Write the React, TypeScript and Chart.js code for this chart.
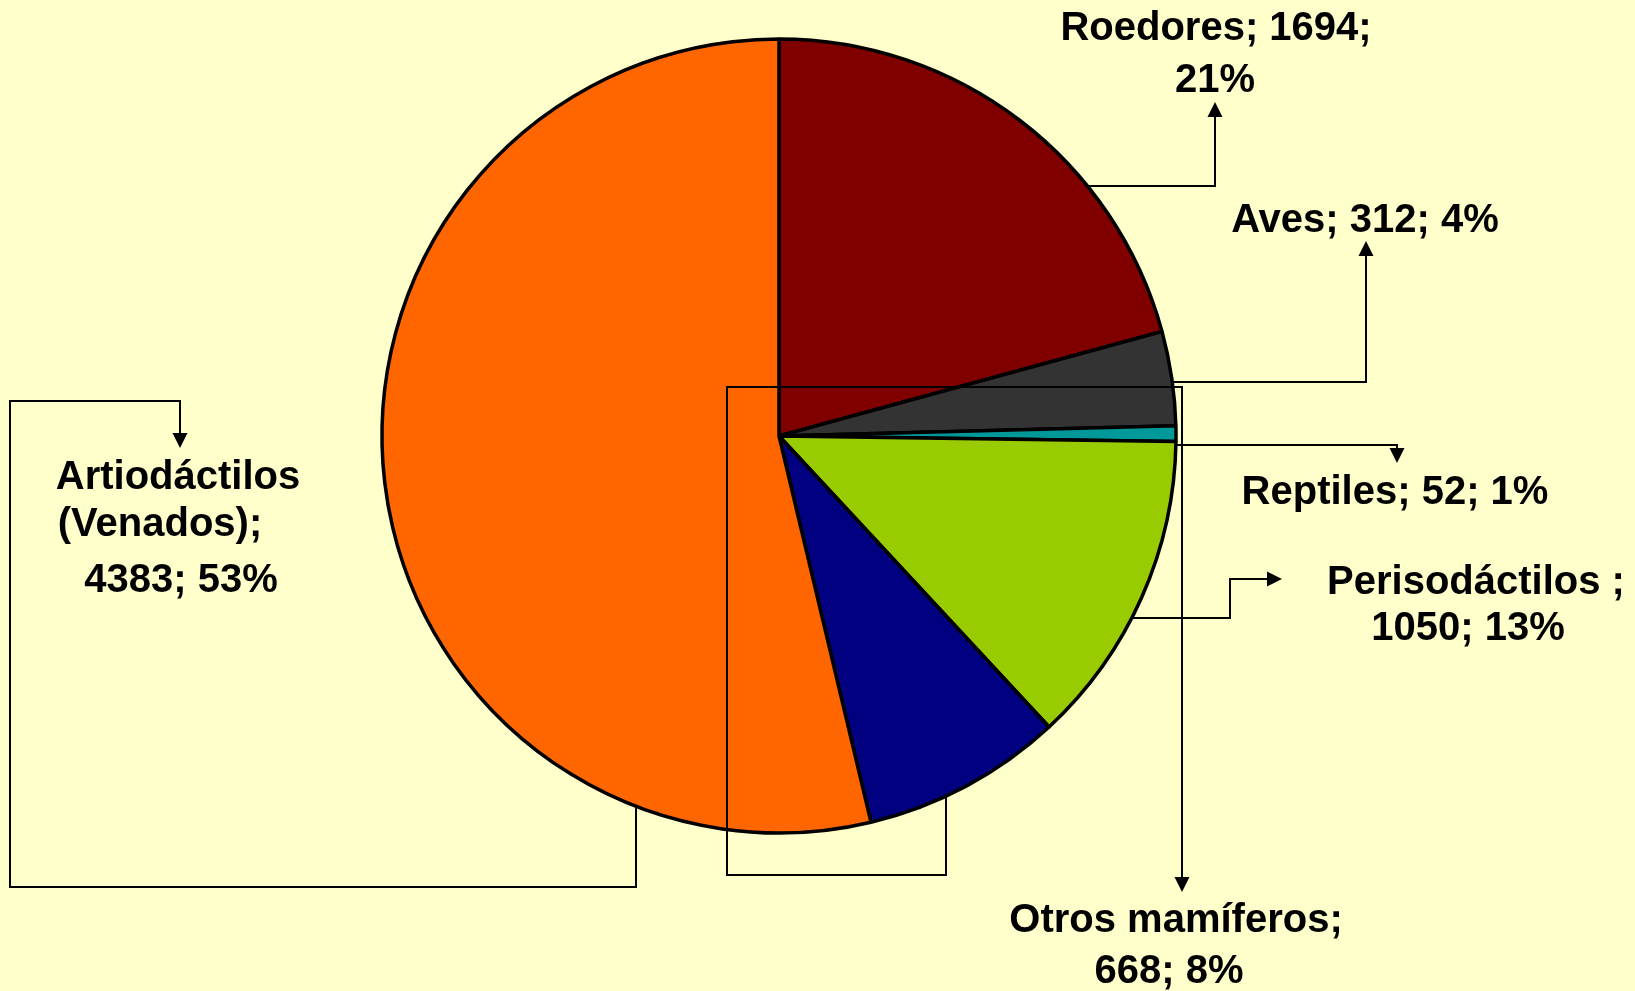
import React, { useEffect, useRef } from "react";
import { Chart, registerables } from "chart.js";

Chart.register(...registerables);

// ---- Data ----
const categories = ["Roedores", "Aves", "Reptiles", "Perisodáctilos", "Otros mamíferos", "Artiodáctilos"];
const values = [1694, 312, 52, 1050, 668, 4383];
const percents = [21, 4, 1, 13, 8, 53];
const colors = ["#800000", "#333333", "#009999", "#99CC00", "#000080", "#FF6600"];

// label text lines, built from the data
const labelLines: string[][] = [
  [`${categories[0]}; ${values[0]};`, `${percents[0]}%`],
  [`${categories[1]}; ${values[1]}; ${percents[1]}%`],
  [`${categories[2]}; ${values[2]}; ${percents[2]}%`],
  [`${categories[3]} ;`, `${values[3]}; ${percents[3]}%`],
  [`${categories[4]};`, `${values[4]}; ${percents[4]}%`],
  [`${categories[5]}`, "(Venados);", `${values[5]}; ${percents[5]}%`],
];

// ---- Layout (positions of label lines: center x, baseline y) ----
const labelPos: [number, number][][] = [
  [[1216, 40], [1215, 92]],
  [[1365, 232]],
  [[1395, 504]],
  [[1476, 594], [1468, 640]],
  [[1176, 932], [1169, 983]],
  [[178, 489], [160, 536], [181, 592]],
];

// leader lines: start on pie edge ('h' = right edge at given y, 'v' = bottom edge at given x), then bend points; last point = arrow tip
type Leader = { edge: "h" | "v"; at: number; pts: [number, number][] };
const leaders: Leader[] = [
  { edge: "h", at: 186, pts: [[1215, 186], [1215, 102]] },
  { edge: "h", at: 382, pts: [[1366, 382], [1366, 241]] },
  { edge: "h", at: 445, pts: [[1397, 445], [1397, 463]] },
  { edge: "h", at: 618, pts: [[1230, 618], [1230, 579], [1282, 579]] },
  { edge: "v", at: 946, pts: [[946, 875], [727, 875], [727, 387], [1182, 387], [1182, 892]] },
  { edge: "v", at: 636, pts: [[636, 887], [10, 887], [10, 401], [180, 401], [180, 448]] },
];

const leaderPlugin = {
  id: "leaders",
  afterDatasetsDraw(chart: any) {
    const ctx: CanvasRenderingContext2D = chart.ctx;
    const arc = chart.getDatasetMeta(0).data[0] as any;
    const cx = arc.x, cy = arc.y, r = arc.outerRadius;
    ctx.save();
    ctx.strokeStyle = "#000";
    ctx.fillStyle = "#000";
    ctx.lineWidth = 2;
    ctx.lineJoin = "miter";
    leaders.forEach((ld) => {
      let sx: number, sy: number;
      if (ld.edge === "h") {
        sy = ld.at;
        sx = cx + Math.sqrt(Math.max(r * r - (sy - cy) * (sy - cy), 0));
      } else {
        sx = ld.at;
        sy = cy + Math.sqrt(Math.max(r * r - (sx - cx) * (sx - cx), 0));
      }
      const pts: [number, number][] = [[sx, sy], ...ld.pts];
      const tip = pts[pts.length - 1];
      const prev = pts[pts.length - 2];
      const dx = tip[0] - prev[0], dy = tip[1] - prev[1];
      const len = Math.hypot(dx, dy) || 1;
      const ux = dx / len, uy = dy / len;
      const al = 15, aw = 7.5;
      const base: [number, number] = [tip[0] - ux * al, tip[1] - uy * al];
      ctx.beginPath();
      ctx.moveTo(pts[0][0], pts[0][1]);
      for (let i = 1; i < pts.length - 1; i++) ctx.lineTo(pts[i][0], pts[i][1]);
      ctx.lineTo(base[0], base[1]);
      ctx.stroke();
      ctx.beginPath();
      ctx.moveTo(tip[0], tip[1]);
      ctx.lineTo(base[0] - uy * aw, base[1] + ux * aw);
      ctx.lineTo(base[0] + uy * aw, base[1] - ux * aw);
      ctx.closePath();
      ctx.fill();
    });
    ctx.font = 'bold 40px "Liberation Sans", Arial, sans-serif';
    ctx.textAlign = "center";
    ctx.textBaseline = "alphabetic";
    labelLines.forEach((lines, i) => {
      lines.forEach((t, j) => {
        const p = labelPos[i][j];
        ctx.fillText(t, p[0], p[1]);
      });
    });
    ctx.restore();
  },
};

export default function App() {
  const ref = useRef<HTMLCanvasElement>(null);
  useEffect(() => {
    if (!ref.current) return;
    const chart = new Chart(ref.current, {
      type: "pie",
      data: {
        labels: categories,
        datasets: [
          {
            data: values,
            backgroundColor: colors,
            borderColor: "#000000",
            borderWidth: 3.5,
            radius: 397,
          } as any,
        ],
      },
      options: {
        responsive: false,
        animation: false,
        devicePixelRatio: 1,
        layout: { padding: { left: 0, right: 77, top: 0, bottom: 119 } },
        plugins: {
          legend: { display: false },
          tooltip: { enabled: false },
          title: { display: false },
        },
      },
      plugins: [leaderPlugin],
    });
    return () => chart.destroy();
  }, []);
  return (
    <div style={{ position: "fixed", left: 0, top: 0, width: 1635, height: 991, background: "#FFFFCC" }}>
      <canvas ref={ref} width={1635} height={991} style={{ display: "block", width: 1635, height: 991 }} />
    </div>
  );
}
